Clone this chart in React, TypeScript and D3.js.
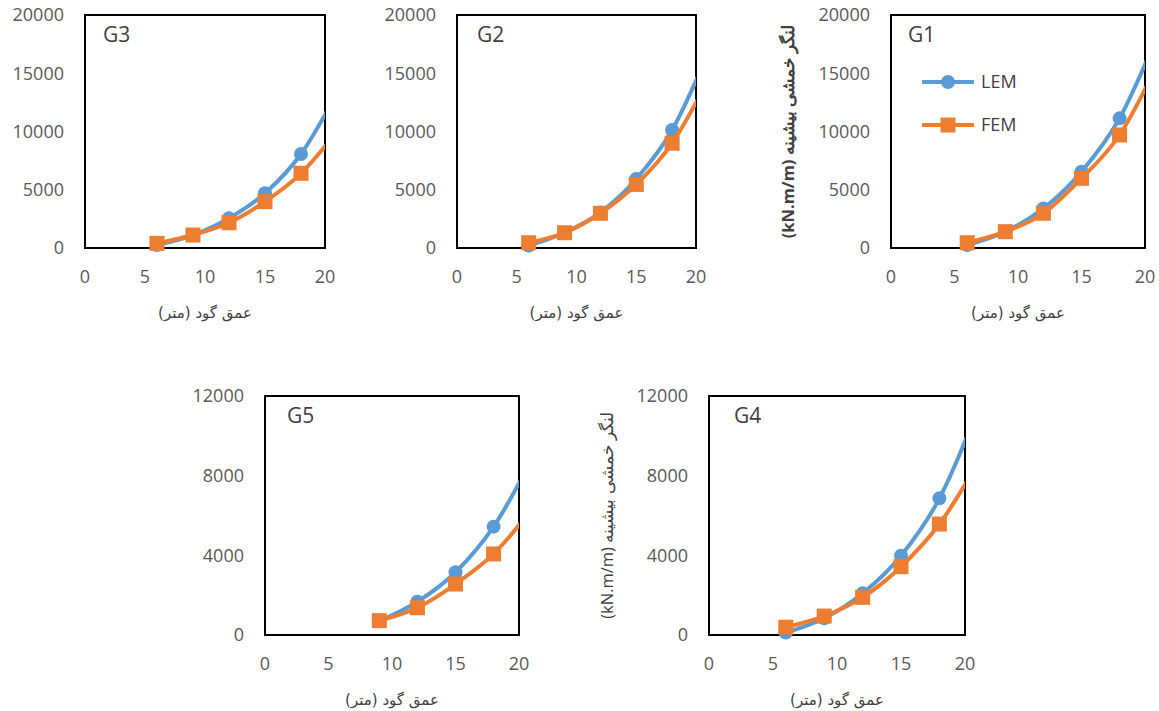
import React from 'react';
import * as d3 from 'd3';

// depth of excavation (m); the last point lies beyond the axis and is clipped
const depths = [6, 9, 12, 15, 18, 21];
const depthsG5 = [9, 12, 15, 18, 21];

const g1Lem = [260, 1400, 3400, 6550, 11130, 18300];
const g1Fem = [450, 1400, 2980, 5980, 9700, 15800];
const g2Lem = [200, 1310, 3050, 5920, 10130, 16700];
const g2Fem = [450, 1310, 2980, 5460, 8990, 14400];
const g3Lem = [250, 1100, 2550, 4700, 8070, 13300];
const g3Fem = [400, 1115, 2170, 3980, 6410, 10000];
const g4Lem = [120, 840, 2090, 3980, 6860, 11300];
const g4Fem = [390, 950, 1890, 3430, 5570, 8630];
const g5Lem = [700, 1670, 3150, 5440, 8800];
const g5Fem = [720, 1370, 2560, 4070, 6300];

const xTicks = [0, 5, 10, 15, 20];
const yTicksTop = [0, 5000, 10000, 15000, 20000];
const yTicksBottom = [0, 4000, 8000, 12000];

const seriesNames = ['LEM', 'FEM'];
const xTitle = 'عمق گود (متر)';
const yTitle = '(kN.m/m) لنگر خمشی بیشینه';

const BLUE = '#5B9BD5';
const ORANGE = '#ED7D31';
const FONT = '"Open Sans", "Liberation Sans", sans-serif';

type Panel = {
  name: string;
  xs: number[];
  lem: number[];
  fem: number[];
  yTicks: number[];
  left: number;
  right: number;
  top: number;
  bottom: number;
  titleDx: number;
  yLabel?: { x: number; bold: boolean };
  legend?: boolean;
};

const panels: Panel[] = [
  { name: 'G3', xs: depths, lem: g3Lem, fem: g3Fem, yTicks: yTicksTop, left: 85, right: 325, top: 15, bottom: 248, titleDx: 18 },
  { name: 'G2', xs: depths, lem: g2Lem, fem: g2Fem, yTicks: yTicksTop, left: 457, right: 696, top: 15, bottom: 248, titleDx: 20 },
  { name: 'G1', xs: depths, lem: g1Lem, fem: g1Fem, yTicks: yTicksTop, left: 891, right: 1145, top: 15, bottom: 248, titleDx: 17, yLabel: { x: 788, bold: true }, legend: true },
  { name: 'G5', xs: depthsG5, lem: g5Lem, fem: g5Fem, yTicks: yTicksBottom, left: 265, right: 519, top: 396, bottom: 635, titleDx: 22 },
  { name: 'G4', xs: depths, lem: g4Lem, fem: g4Fem, yTicks: yTicksBottom, left: 709, right: 965, top: 396, bottom: 635, titleDx: 25, yLabel: { x: 607, bold: false } },
];

function Marker({ kind, x, y }: { kind: string; x: number; y: number }) {
  if (kind === 'LEM') return <circle cx={x} cy={y} r={7} fill={BLUE} />;
  return <rect x={x - 7.5} y={y - 7.5} width={15} height={15} fill={ORANGE} />;
}

function ChartPanel({ p }: { p: Panel }) {
  const x = d3.scaleLinear().domain([0, 20]).range([p.left, p.right]);
  const y = d3.scaleLinear().domain([0, p.yTicks[p.yTicks.length - 1]]).range([p.bottom, p.top]);
  const line = d3.line<[number, number]>()
    .x(d => x(d[0]))
    .y(d => y(d[1]))
    .curve(d3.curveCardinal.tension(0));
  const clipId = 'clip-' + p.name;
  const series = [
    { name: 'LEM', color: BLUE, vals: p.lem },
    { name: 'FEM', color: ORANGE, vals: p.fem },
  ];
  const cx = (p.left + p.right) / 2;
  const cy = (p.top + p.bottom) / 2;

  return (
    <g>
      <defs>
        <clipPath id={clipId}>
          <rect x={p.left} y={p.top - 10} width={p.right - p.left} height={p.bottom - p.top + 20} />
        </clipPath>
      </defs>
      <rect x={p.left} y={p.top} width={p.right - p.left} height={p.bottom - p.top}
        fill="white" stroke="#000" strokeWidth={2} />
      <text x={p.left + p.titleDx} y={p.top + 27} fontFamily={FONT} fontSize={21} fill="#404040">{p.name}</text>

      {p.yTicks.map(t => (
        <text key={'y' + t} x={p.left - 21} y={y(t)} dy="0.35em" textAnchor="end"
          fontFamily={FONT} fontSize={18} fill="#595959">{t}</text>
      ))}
      {xTicks.map(t => (
        <text key={'x' + t} x={x(t)} y={p.bottom + 29} dy="0.35em" textAnchor="middle"
          fontFamily={FONT} fontSize={18} fill="#595959">{t}</text>
      ))}
      <text x={cx} y={p.bottom + 65} dy="0.35em" textAnchor="middle" style={{ direction: 'rtl' }}
        fontFamily='"DejaVu Sans", serif' fontSize={15} fill="#404040">{xTitle}</text>

      {p.yLabel && (
        <text transform={`translate(${p.yLabel.x},${cy}) rotate(-90)`} dy="0.35em" textAnchor="middle"
          fontFamily={FONT} fontSize={16.5} fontWeight={p.yLabel.bold ? 'bold' : 'normal'} fill="#404040">{yTitle}</text>
      )}

      <g clipPath={`url(#${clipId})`}>
        {series.map(s => {
          const pts = p.xs.map((d, i) => [d, s.vals[i]] as [number, number]);
          return (
            <g key={s.name}>
              <path d={line(pts) || ''} fill="none" stroke={s.color} strokeWidth={4} />
              {pts.filter(d => d[0] <= 20).map(d => (
                <Marker key={d[0]} kind={s.name} x={x(d[0])} y={y(d[1])} />
              ))}
            </g>
          );
        })}
      </g>

      {p.legend && seriesNames.map((n, i) => {
        const ly = p.top + 67 + i * 43;
        const lx = p.left + 31;
        return (
          <g key={n}>
            <line x1={lx} x2={lx + 52} y1={ly} y2={ly} stroke={n === 'LEM' ? BLUE : ORANGE} strokeWidth={4} />
            <Marker kind={n} x={lx + 26} y={ly} />
            <text x={lx + 59} y={ly} dy="0.35em" fontFamily={FONT} fontSize={18} fill="#404040">{n}</text>
          </g>
        );
      })}
    </g>
  );
}

export default function App() {
  return (
    <svg width={1159} height={711} style={{ position: 'absolute', left: 0, top: 0, background: 'white' }}>
      <rect width={1159} height={711} fill="white" />
      {panels.map(p => <ChartPanel key={p.name} p={p} />)}
    </svg>
  );
}
